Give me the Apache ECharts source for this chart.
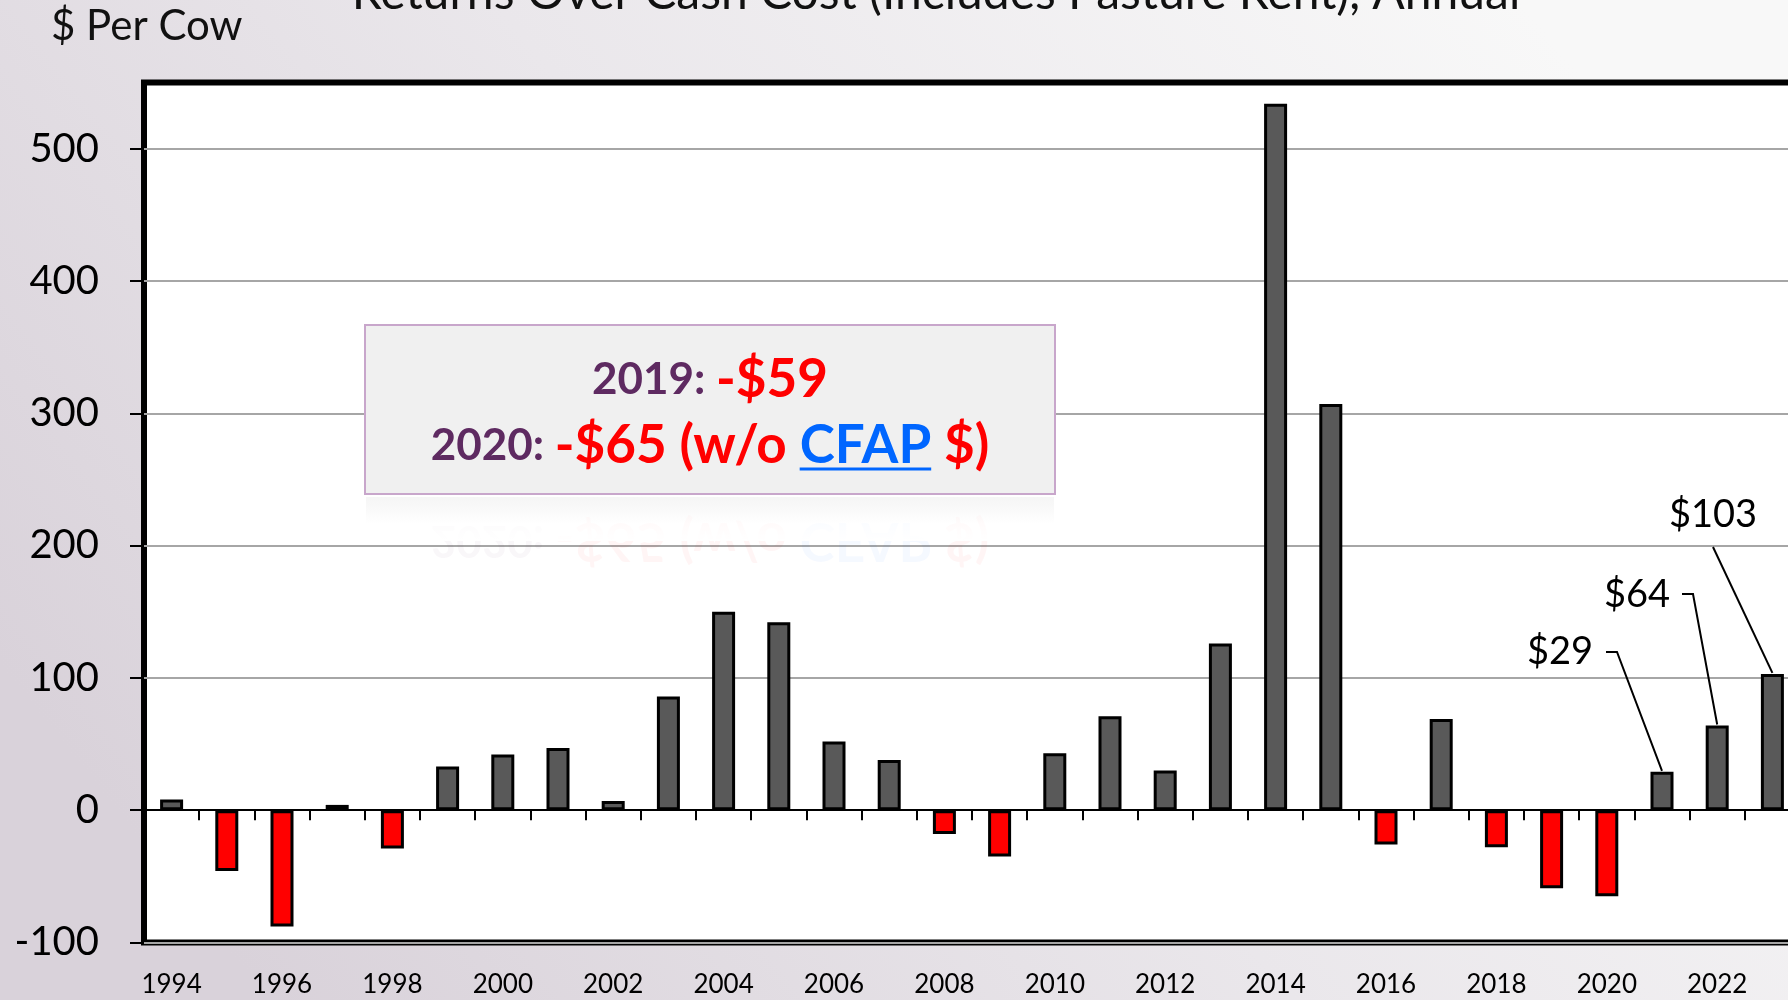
<!DOCTYPE html>
<html>
<head>
<meta charset="utf-8">
<title>Returns Over Cash Cost</title>
<script src="https://cdn.jsdelivr.net/npm/echarts@6/dist/echarts.min.js"></script>
<style>
  html, body { margin: 0; padding: 0; }
  #main { width: 1788px; height: 1000px; }
</style>
</head>
<body>
<div id="main"></div>
<script>
// data
const years = ['1994', '1995', '1996', '1997', '1998', '1999', '2000', '2001', '2002', '2003',
  '2004', '2005', '2006', '2007', '2008', '2009', '2010', '2011', '2012', '2013',
  '2014', '2015', '2016', '2017', '2018', '2019', '2020', '2021', '2022', '2023'];
const returns = [8, -46, -88, 4, -29, 33, 42, 47, 7, 86,
  150, 142, 52, 38, -18, -35, 43, 71, 30, 126,
  534, 307, -26, 69, -28, -59, -65, 29, 64, 103];
const yTicks = [-100, 0, 100, 200, 300, 400, 500];
const calloutYears = ['2021', '2022', '2023'];
const calloutText = ['$29', '$64', '$103'];

const FONT = 'Lato';
const POS = '#595959';
const NEG = '#ff0000';

const chart = echarts.init(document.getElementById('main'));

const option = {
  animation: false,
  backgroundColor: {
    type: 'linear', x: 0.15, y: 1, x2: 0.85, y2: 0,
    colorStops: [
      { offset: 0, color: '#d9d2da' },
      { offset: 0.5, color: '#eae7eb' },
      { offset: 1, color: '#f8f8f8' },
    ],
  },
  textStyle: { fontFamily: FONT },
  grid: {
    left: 144,
    width: 1656, // plot runs past the right edge of the picture
    top: 82.5,
    bottom: 57.5,
    outerBoundsMode: 'none',
    show: true,
    backgroundColor: '#fff',
    borderColor: '#000',
    borderWidth: 6,
  },
  xAxis: [{
    type: 'category',
    data: years,
    position: 'bottom',
    axisLine: { show: false, onZero: false },
    axisTick: { show: false },
    axisLabel: {
      interval: 1,
      fontSize: 26,
      color: '#000',
      margin: 29,
      fontFamily: FONT,
    },
  }, {
    // the zero line with its ticks between years
    type: 'category',
    data: years,
    position: 'bottom',
    axisLine: { show: true, onZero: true, lineStyle: { color: '#000', width: 2 } },
    axisTick: { show: true, interval: 0, length: 10, lineStyle: { color: '#000', width: 2 } },
    axisLabel: { show: false },
  }],
  yAxis: {
    type: 'value',
    min: -100,
    max: 550,
    interval: 100,
    axisLine: { show: false },
    axisTick: {
      show: true,
      length: 14,
      customValues: yTicks,
      lineStyle: { color: '#000', width: 2 },
    },
    axisLabel: {
      customValues: yTicks,
      fontSize: 40,
      color: '#000',
      margin: 45,
      fontFamily: FONT,
    },
    splitLine: { lineStyle: { color: '#a6a6a6', width: 2 } },
  },
  series: [{
    type: 'bar',
    data: returns,
    barWidth: 23,
    itemStyle: {
      color: p => (p.value < 0 ? NEG : POS),
      borderColor: '#000',
      borderWidth: 3,
    },
  }],
};

chart.setOption(option);

// measure rich text pieces so CFAP can get its underline
const ctx = document.createElement('canvas').getContext('2d');
function textW(str, size) {
  ctx.font = 'bold ' + size + 'px ' + FONT;
  return ctx.measureText(str).width;
}

const boxCx = 710;
const purple = '#5e2a61';
const blue = '#0066ff';
const P = 44, R = 53;
const rich = {
  p: { fontSize: P, fontWeight: 'bold', fill: purple, fontFamily: FONT },
  r: { fontSize: R, fontWeight: 'bold', fill: NEG, fontFamily: FONT },
  b: { fontSize: R, fontWeight: 'bold', fill: blue, fontFamily: FONT },
};
const l2parts = [['2020: ', P], ['-$65 (w/o ', R], ['CFAP', R], [' $)', R]];
const l2total = l2parts.reduce((s, d) => s + textW(d[0], d[1]), 0);
const cfapX = boxCx - l2total / 2 + textW(l2parts[0][0], P) + textW(l2parts[1][0], R);
const cfapW = textW('CFAP', R);
const line2 = '{p|2020: }{r|-$65 (w/o }{b|CFAP}{r| $)}';

const graphic = [];

graphic.push({
  type: 'text', x: 936, y: -6, z: 10,
  style: {
    text: 'Returns Over Cash Cost (Includes Pasture Rent), Annual',
    fontSize: 48, fontFamily: FONT, fill: '#111',
    align: 'center', verticalAlign: 'middle',
  },
});
graphic.push({
  type: 'text', x: 51, y: 26, z: 10,
  style: {
    text: '$ Per Cow', fontSize: 42, fontFamily: FONT, fill: '#111',
    align: 'left', verticalAlign: 'middle',
  },
});

// annotation box and its faint reflection
graphic.push({
  type: 'rect', z: 10,
  shape: { x: 365, y: 325, width: 690, height: 169 },
  style: { fill: '#f0f0f0', stroke: '#c8a6cb', lineWidth: 2 },
});
graphic.push({
  type: 'text', x: boxCx, y: 540, scaleY: -1, z: 9,
  style: {
    text: line2, rich, align: 'center', verticalAlign: 'middle', opacity: 0.04,
  },
});
graphic.push({
  type: 'rect', z: 9,
  shape: { x: 366, y: 497, width: 688, height: 44 },
  style: {
    fill: {
      type: 'linear', x: 0, y: 0, x2: 0, y2: 1,
      colorStops: [
        { offset: 0, color: 'rgba(236,236,236,0.5)' },
        { offset: 0.6, color: 'rgba(255,255,255,0.6)' },
        { offset: 1, color: 'rgba(255,255,255,1)' },
      ],
    },
  },
});
graphic.push({
  type: 'text', x: boxCx, y: 380, z: 11,
  style: {
    text: '{p|2019: }{r|-$59}',
    rich, align: 'center', verticalAlign: 'middle',
  },
});
graphic.push({
  type: 'text', x: boxCx, y: 446, z: 11,
  style: {
    text: line2, rich, align: 'center', verticalAlign: 'middle',
  },
});
graphic.push({
  type: 'line', z: 11,
  shape: { x1: cfapX, y1: 469, x2: cfapX + cfapW, y2: 469 },
  style: { stroke: blue, lineWidth: 3 },
});

// callouts for the last three years, lines end on the bar tops
const labelPos = [[1560, 652], [1637, 595], [1713, 515]];
const elbow = [[[1606, 652], [1617, 652]], [[1682, 594], [1693, 594]], [[1713, 547]]];
calloutYears.forEach((yr, i) => {
  const v = returns[years.indexOf(yr)];
  const top = chart.convertToPixel({ xAxisIndex: 0, yAxisIndex: 0 }, [yr, v]);
  graphic.push({
    type: 'text', x: labelPos[i][0], y: labelPos[i][1], z: 12,
    style: {
      text: calloutText[i], fontSize: 38, fontFamily: FONT, fill: '#000',
      align: 'center', verticalAlign: 'middle',
    },
  });
  graphic.push({
    type: 'polyline', z: 12,
    shape: { points: elbow[i].concat([[top[0], top[1] - 1]]) },
    style: { stroke: '#000', lineWidth: 2, fill: null },
  });
});

chart.setOption({ graphic });
</script>
</body>
</html>
